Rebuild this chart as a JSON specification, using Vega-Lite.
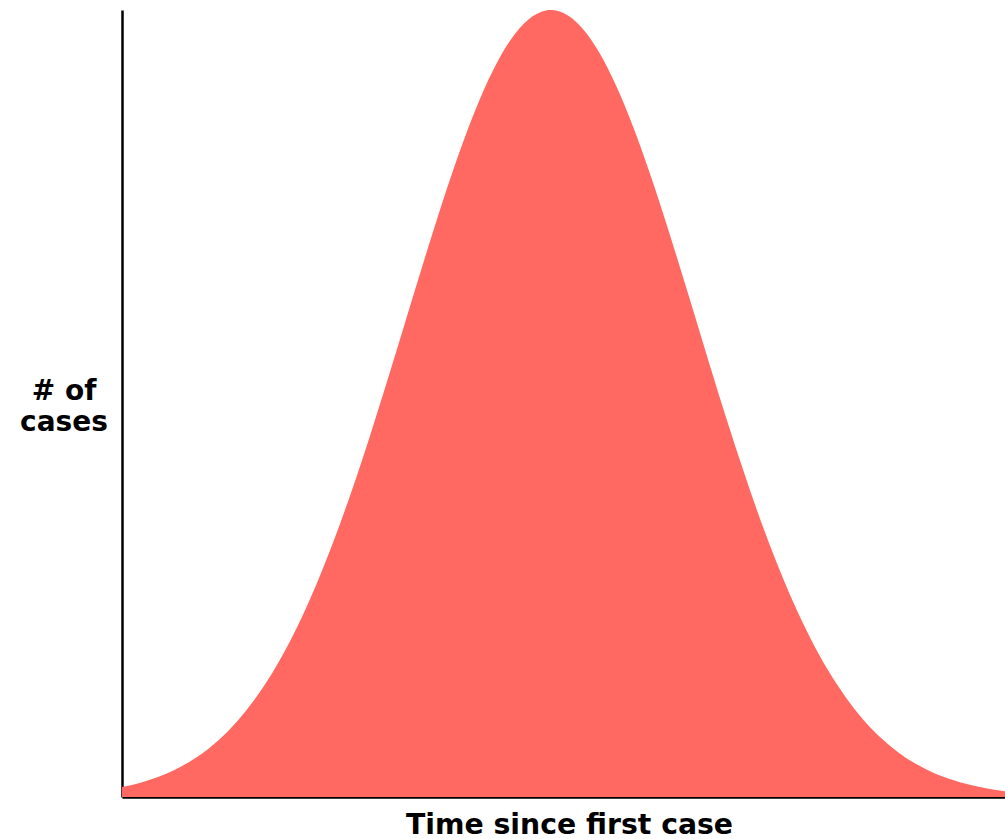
{
  "$schema": "https://vega.github.io/schema/vega-lite/v6.json",
  "width": 883,
  "height": 787,
  "autosize": "none",
  "padding": {"left": 122, "top": 10, "right": 0, "bottom": 42},
  "background": "white",
  "config": {"view": {"stroke": null}},
  "data": {"values": [
    {"t": 0, "cases": 1.257}, {"t": 2, "cases": 1.790}, {"t": 4, "cases": 2.510}, {"t": 6, "cases": 3.466},
    {"t": 8, "cases": 4.721}, {"t": 10, "cases": 6.333}, {"t": 12, "cases": 8.367}, {"t": 14, "cases": 10.89},
    {"t": 16, "cases": 13.97}, {"t": 18, "cases": 17.66}, {"t": 20, "cases": 21.99}, {"t": 22, "cases": 26.98},
    {"t": 24, "cases": 32.62}, {"t": 26, "cases": 38.85}, {"t": 28, "cases": 45.60}, {"t": 30, "cases": 52.72},
    {"t": 32, "cases": 60.07}, {"t": 34, "cases": 67.42}, {"t": 36, "cases": 74.57}, {"t": 38, "cases": 81.26},
    {"t": 40, "cases": 87.24}, {"t": 42, "cases": 92.28}, {"t": 44, "cases": 96.18}, {"t": 46, "cases": 98.77},
    {"t": 48, "cases": 99.94}, {"t": 48.58, "cases": 100}, {"t": 50, "cases": 99.63}, {"t": 52, "cases": 97.85},
    {"t": 54, "cases": 94.70}, {"t": 56, "cases": 90.29}, {"t": 58, "cases": 84.83}, {"t": 60, "cases": 78.52},
    {"t": 62, "cases": 71.60}, {"t": 64, "cases": 64.35}, {"t": 66, "cases": 56.97}, {"t": 68, "cases": 49.69},
    {"t": 70, "cases": 42.71}, {"t": 72, "cases": 36.16}, {"t": 74, "cases": 30.17}, {"t": 76, "cases": 24.80},
    {"t": 78, "cases": 20.09}, {"t": 80, "cases": 16.03}, {"t": 82, "cases": 12.61}, {"t": 84, "cases": 9.765},
    {"t": 86, "cases": 7.454}, {"t": 88, "cases": 5.605}, {"t": 90, "cases": 4.153}, {"t": 92, "cases": 3.032},
    {"t": 94, "cases": 2.181}, {"t": 96, "cases": 1.546}, {"t": 98, "cases": 1.079}, {"t": 100, "cases": 0.742}
  ]},
  "mark": {"type": "area", "color": "#ff6961", "interpolate": "monotone", "opacity": 1},
  "encoding": {
    "x": {
      "field": "t", "type": "quantitative",
      "scale": {"domain": [0, 100], "nice": false, "zero": false},
      "axis": {
        "title": "Time since first case",
        "ticks": false, "labels": false, "grid": false,
        "domainColor": "black", "domainWidth": 2.5,
        "titleFont": "DejaVu Sans", "titleFontSize": 28.3, "titleFontWeight": "bold", "titleColor": "black",
        "titleX": 447, "titleY": 36, "titleAlign": "center", "titleBaseline": "alphabetic"
      }
    },
    "y": {
      "field": "cases", "type": "quantitative",
      "scale": {"domain": [0, 100], "nice": false},
      "axis": {
        "title": ["# of", "cases"],
        "ticks": false, "labels": false, "grid": false,
        "domainColor": "black", "domainWidth": 2.5,
        "titleFont": "DejaVu Sans", "titleFontSize": 28, "titleFontWeight": "bold", "titleColor": "black",
        "titleAngle": 0, "titleX": -58.5, "titleY": 389, "titleAlign": "center", "titleBaseline": "alphabetic",
        "titleLineHeight": 31
      }
    }
  }
}
